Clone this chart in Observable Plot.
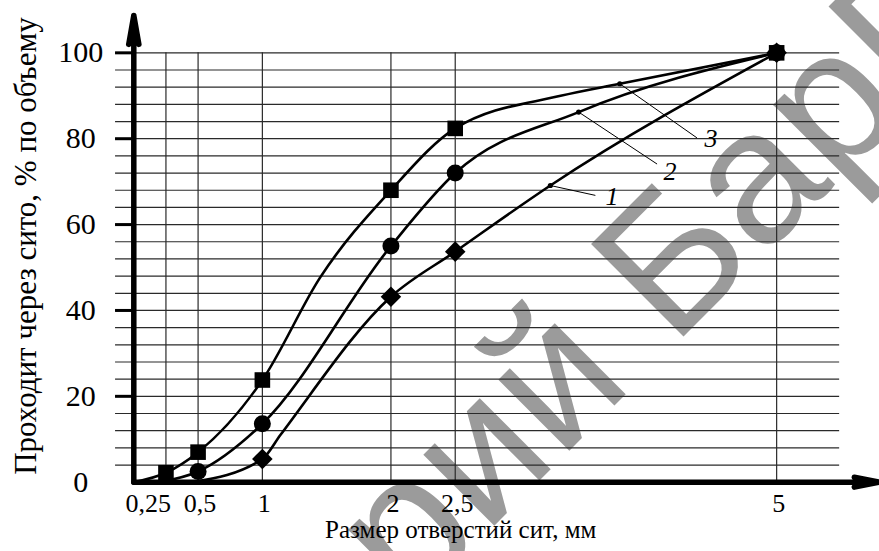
<!DOCTYPE html>
<html><head><meta charset="utf-8">
<script src="https://cdn.jsdelivr.net/npm/d3@7"></script>
<script src="https://cdn.jsdelivr.net/npm/@observablehq/plot@0.6"></script>
<style>
body{margin:0;background:#fff;}
#chart{position:relative;width:879px;height:551px;overflow:hidden;background:#fff;}
</style></head><body><div id="chart"></div>
<script>
// ---- data ----
const sieveSizes = [0.25, 0.5, 1, 2, 2.5, 5];
const xTickLabels = ["0,25", "0,5", "1", "2", "2,5", "5"];
const yTickValues = [0, 20, 40, 60, 80, 100];
const yTickLabels = ["0", "20", "40", "60", "80", "100"];
const gridYValues = [4, 8, 12, 16, 20, 24, 28, 32, 36, 40, 44, 48, 52, 56, 60, 64, 68, 72, 76, 80, 84, 88, 92, 96, 100];

// markers (measured points)
const s1X = [1, 2, 2.5, 5];
const s1Y = [5.4, 43.2, 53.7, 100];
const s2X = [0.5, 1, 2, 2.5, 5];
const s2Y = [2.5, 13.6, 55, 72, 100];
const s3X = [0.25, 0.5, 1, 2, 2.5, 5];
const s3Y = [2.2, 7, 23.8, 68, 82.4, 100];

// curve points
const c1X = [0.45, 1, 1.14, 2, 2.5, 3.24, 5];
const c1Y = [0, 5.4, 11, 43.2, 53.7, 69.1, 100];
const c2X = [0.2, 0.5, 1, 2, 2.5, 3.46, 5];
const c2Y = [0, 2.5, 13.6, 55, 72, 86.2, 100];
const c3X = [0, 0.25, 0.5, 1, 1.45, 2, 2.5, 3.32, 3.78, 5];
const c3Y = [0, 2.2, 7, 23.8, 47.7, 68, 82.4, 90, 92.8, 100];

// curve labels with leader lines
const labelText = ["1", "2", "3"];
const leaderX1 = [3.24, 3.46, 3.78];
const leaderY1 = [69.1, 86.2, 92.8];
const leaderX2 = [3.59, 4.07, 4.38];
const leaderY2 = [66.8, 74.1, 80.2];
const labelX = [3.72, 4.17, 4.49];
const labelY = [66.6, 72.4, 80.0];

const xTitle = "Размер отверстий сит, мм";
const yTitle = "Проходит через сито, % по объему";
const watermarkA = "Репозиторий";
const watermarkB = "БарГУ";

// ---- build tables ----
const zip = (xs, ys, extra = {}) => xs.map((x, i) => ({x, y: ys[i], ...extra}));
const curves = [
  ...zip(c1X, c1Y, {s: "1"}),
  ...zip(c2X, c2Y, {s: "2"}),
  ...zip(c3X, c3Y, {s: "3"})
];
const xTicks = sieveSizes.map((v, i) => ({v, label: xTickLabels[i]}));
const yTicks = yTickValues.map((v, i) => ({v, label: yTickLabels[i]}));
const leaders = labelText.map((t, i) => ({t, x1: leaderX1[i], y1: leaderY1[i], x2: leaderX2[i], y2: leaderY2[i], lx: labelX[i], ly: labelY[i]}));

const gridLeft = -0.142, gridRight = 5.49;
const serif = "Liberation Serif";

const plot = Plot.plot({
  width: 879,
  height: 551,
  marginLeft: 133.3,
  marginRight: 0,
  marginTop: 9.4,
  marginBottom: 69.3,
  style: {fontFamily: "Liberation Serif, serif", background: "white", overflow: "visible"},
  x: {domain: [0, 5.8], axis: null},
  y: {domain: [0, 110], axis: null},
  marks: [
    // grid
    Plot.ruleY(gridYValues, {x1: gridLeft, x2: gridRight, stroke: "#2a2a2a", strokeWidth: 1.2}),
    Plot.ruleX(sieveSizes, {y1: 0, y2: 100, stroke: "#2a2a2a", strokeWidth: 1.2}),
    // y tick marks
    Plot.ruleY(yTickValues.filter(d => d > 0), {x1: gridLeft, x2: 0, stroke: "#000", strokeWidth: 3}),
    // axes with arrows
    Plot.arrow([0], {x1: 0, y1: 0, x2: 0, y2: 108.7, stroke: "#000", strokeWidth: 5.5, headAngle: 20, headLength: 8}),
    Plot.arrow([0], {x1: 0, y1: 0, x2: 5.8, y2: 0, stroke: "#000", strokeWidth: 5.5, headAngle: 22, headLength: 7}),
    // curves
    Plot.line(curves, {x: "x", y: "y", z: "s", curve: "monotone-x", stroke: "#000", strokeWidth: 2.6}),
    // markers
    Plot.dot(zip(s1X, s1Y), {x: "x", y: "y", symbol: "square", r: 8.2, rotate: 45, fill: "#000"}),
    Plot.dot(zip(s2X, s2Y), {x: "x", y: "y", symbol: "circle", r: 8.5, fill: "#000"}),
    Plot.dot(zip(s3X, s3Y), {x: "x", y: "y", symbol: "square", r: 8.8, fill: "#000"}),
    // leaders
    Plot.link(leaders, {x1: "x1", y1: "y1", x2: "x2", y2: "y2", stroke: "#000", strokeWidth: 1}),
    Plot.dot(leaders, {x: "x1", y: "y1", r: 2.6, fill: "#000"}),
    Plot.text(leaders, {x: "lx", y: "ly", text: "t", fontSize: 26, fontStyle: "italic", fontFamily: serif, fill: "#000", textAnchor: "middle", lineAnchor: "middle"}),
    // y tick labels
    Plot.text(yTicks, {y: "v", text: "label", frameAnchor: "left", dx: -53, textAnchor: "middle", lineAnchor: "middle", fontSize: 30, fontFamily: serif, fill: "#000"}),
    // x tick labels
    Plot.text(xTicks.filter(d => d.v !== 0.25), {x: "v", text: "label", frameAnchor: "bottom", dy: 21, dx: 2, textAnchor: "middle", lineAnchor: "middle", fontSize: 26, fontFamily: serif, fill: "#000"}),
    Plot.text(xTicks.filter(d => d.v === 0.25), {x: "v", text: "label", frameAnchor: "bottom", dy: 21, dx: 5, textAnchor: "end", lineAnchor: "middle", fontSize: 26, fontFamily: serif, fill: "#000"}),
    // titles
    Plot.text([xTitle], {text: d => d, frameAnchor: "bottom", dx: -46, dy: 48, textAnchor: "middle", lineAnchor: "middle", fontSize: 25, fontFamily: serif, fill: "#000"}),
    Plot.text([yTitle], {text: d => d, frameAnchor: "left", dx: -108, rotate: -90, textAnchor: "middle", lineAnchor: "middle", fontSize: 31, fontFamily: serif, fill: "#000"})
  ]
});

document.getElementById("chart").appendChild(plot);

// watermark behind the chart
const svg = d3.select(plot);
const wm = svg.insert("g", ":first-child")
  .attr("transform", "translate(635,385) rotate(-45)")
  .attr("fill", "#9b9b9b")
  .attr("font-family", "Liberation Sans, Arial, sans-serif")
  .attr("font-size", 190);
wm.append("text").attr("text-anchor", "end").text(watermarkA);
wm.append("text").attr("text-anchor", "start").attr("x", 53).text(watermarkB);
</script>
</body></html>
